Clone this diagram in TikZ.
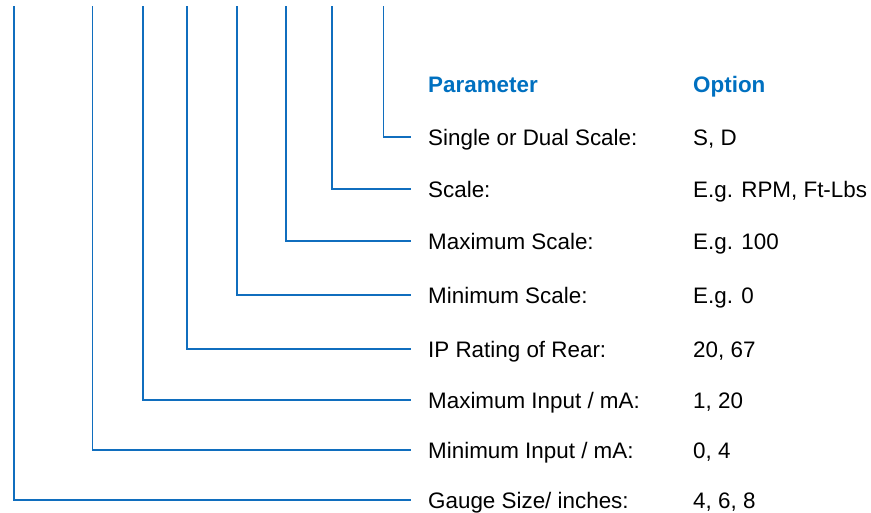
\documentclass[tikz,border=0pt]{standalone}
\usepackage{fontspec}
\setmainfont{Liberation Sans}
\definecolor{hdrblue}{RGB}{0,112,192}
\definecolor{lineblue}{RGB}{16,110,190}
\begin{document}
\begin{tikzpicture}[x=1pt,y=-1pt,
  lbl/.style={anchor=west,inner sep=0pt,text height=16pt,text depth=0pt,font=\fontsize{22.4}{26}\selectfont},
  hdr/.style={lbl,text=hdrblue,font=\fontsize{22.4}{26}\selectfont\bfseries},
  conn/.style={draw=lineblue,line width=1.3pt}]
\useasboundingbox (0,0) rectangle (871,512);
% headers
\node[hdr] (hp) at (428,84) {Parameter};
\node[hdr] (ho) at (693,84) {Option};
% rows
\foreach \n/\y/\x/\p/\o in {
  sd/137/383.5/{Single or Dual Scale:}/{S, D},
  sc/189/332/{Scale:}/{E.g. RPM, Ft-Lbs},
  mx/241/286/{Maximum Scale:}/{E.g. 100},
  mn/295/237/{Minimum Scale:}/{E.g. 0},
  ip/349/187/{IP Rating of Rear:}/{20, 67},
  mi/400/143/{Maximum Input / mA:}/{1, 20},
  ni/450/92.5/{Minimum Input / mA:}/{0, 4},
  gs/500/14/{Gauge Size/ inches:}/{4, 6, 8}}{
  \node[lbl] (p\n) at (428,\y) {\p};
  \node[lbl] (o\n) at (693,\y) {\o};
  \coordinate (t\n) at (\x,6);
  \draw[conn] (t\n) |- ([xshift=-17pt]p\n.west);
}
\end{tikzpicture}
\end{document}
